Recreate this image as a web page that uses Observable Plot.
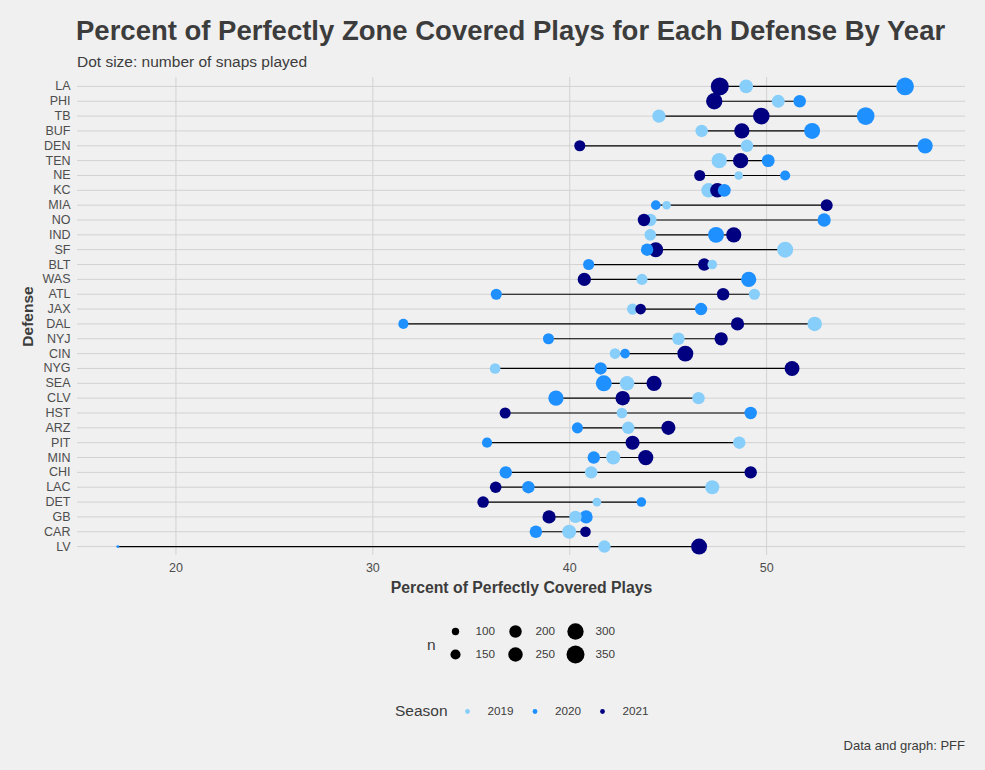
<!DOCTYPE html>
<html>
<head>
<meta charset="utf-8">
<script src="https://cdn.jsdelivr.net/npm/d3@7"></script>
<script src="https://cdn.jsdelivr.net/npm/@observablehq/plot@0.6"></script>
<style>
  html, body { margin: 0; padding: 0; background: #F0F0F0; }
  body { width: 985px; height: 770px; position: relative; overflow: hidden;
         font-family: "Liberation Sans", Arial, sans-serif; color: #3C3C3C; }
  .abs { position: absolute; line-height: 1; white-space: nowrap; }
  #title { left: 76px; top: 17px; font-size: 27.5px; font-weight: bold; }
  #subtitle { left: 77px; top: 54px; font-size: 15.5px; }
  #chart { left: 0; top: 72px; }
  #sizeLegend { left: 0; top: 605px; }
  #seasonLegend { left: 0; top: 690px; }
  #nTitle { left: 427px; top: 637px; font-size: 15.5px; }
  #seasonTitle { left: 395px; top: 703px; font-size: 15.5px; }
  #caption { right: 20px; top: 739px; font-size: 13px; }
</style>
</head>
<body>
<div id="title" class="abs">Percent of Perfectly Zone Covered Plays for Each Defense By Year</div>
<div id="subtitle" class="abs">Dot size: number of snaps played</div>
<div id="chart" class="abs"></div>
<div id="nTitle" class="abs">n</div>
<div id="sizeLegend" class="abs"></div>
<div id="seasonTitle" class="abs">Season</div>
<div id="seasonLegend" class="abs"></div>
<div id="caption" class="abs">Data and graph: PFF</div>
<script>
const teams = ["LA","PHI","TB","BUF","DEN","TEN","NE","KC","MIA","NO","IND","SF","BLT","WAS","ATL","JAX","DAL","NYJ","CIN","NYG","SEA","CLV","HST","ARZ","PIT","MIN","CHI","LAC","DET","GB","CAR","LV"];
const seasons = [2019, 2020, 2021];
const seasonColors = ["#87CEFA", "#1E90FF", "#000080"];

const pct2019 = [48.96,50.59,44.53,46.70,49.00,47.59,48.58,47.05,44.92,44.09,44.09,50.94,47.24,43.67,49.38,43.19,52.44,45.52,42.30,36.21,42.91,46.54,42.65,42.97,48.61,42.21,41.09,47.24,41.38,40.29,39.97,41.76];
const pct2020 = [57.03,51.68,55.03,52.31,58.05,50.08,50.94,47.85,44.37,52.92,47.43,43.93,40.96,49.09,36.27,46.67,31.55,38.92,42.81,41.57,41.73,39.30,49.19,40.39,35.80,41.22,36.75,37.90,43.64,40.83,38.28,17.05];
const pct2021 = [47.62,47.34,49.73,48.74,40.51,48.68,46.60,47.50,53.05,43.77,48.33,44.37,46.83,40.74,47.79,43.60,48.52,47.69,45.87,51.29,44.28,42.69,36.72,45.01,43.19,43.86,49.19,36.24,35.60,38.95,40.80,46.57];

const snaps2019 = [230,210,220,200,200,270,120,250,120,200,180,290,140,170,170,170,250,200,160,160,250,200,160,200,200,240,200,240,125,200,240,200];
const snaps2020 = [340,200,340,290,270,210,150,210,140,220,290,200,170,270,170,200,150,170,140,200,290,270,200,170,150,200,200,200,140,220,200,40];
const snaps2021 = [350,300,310,270,170,270,170,250,190,200,270,260,200,220,200,160,220,220,290,260,270,250,170,240,240,270,200,180,180,220,160,290];

const xTicks = [20, 30, 40, 50];
const sizeBreaks = [100, 150, 200, 250, 300, 350];

const pctLists = [pct2019, pct2020, pct2021];
const snapLists = [snaps2019, snaps2020, snaps2021];

const points = seasons.flatMap((s, k) => teams.map((t, i) => ({team: t, season: s, pct: pctLists[k][i], n: snapLists[k][i]})));
const ranges = teams.map((t, i) => ({
  team: t,
  lo: Math.min(pct2019[i], pct2020[i], pct2021[i]),
  hi: Math.max(pct2019[i], pct2020[i], pct2021[i])
}));

const rScale = {type: "pow", exponent: 0.5, domain: [100, 350], range: [3.7, 9]};
const colorScale = {type: "ordinal", domain: seasons, range: seasonColors};
const font = "'Liberation Sans', Arial, sans-serif";
const grid = "#D2D2D2";

const chart = Plot.plot({
  width: 985,
  height: 530,
  marginLeft: 77,
  marginRight: 20,
  marginTop: 5,
  marginBottom: 47,
  style: {background: "transparent", fontFamily: font, fontSize: "12.5px", color: "#4D4D4D", overflow: "visible"},
  x: {domain: [15.0, 60.1], ticks: xTicks, tickSize: 0, tickPadding: 8, label: null, tickFormat: d => String(d)},
  y: {type: "point", domain: teams, padding: 0.6, round: false, tickSize: 0, tickPadding: 7, label: null},
  r: rScale,
  color: colorScale,
  marks: [
    Plot.ruleX(xTicks, {x: d => d, stroke: grid, strokeWidth: 1}),
    Plot.ruleY(teams, {y: d => d, stroke: grid, strokeWidth: 1}),
    Plot.ruleY(ranges, {y: "team", x1: "lo", x2: "hi", stroke: "black", strokeWidth: 1.2}),
    Plot.dot(points, {x: "pct", y: "team", r: "n", fill: "season", stroke: null}),
    Plot.text(["Percent of Perfectly Covered Plays"], {frameAnchor: "bottom", lineAnchor: "middle", textAnchor: "middle", dy: 32, text: d => d, fontWeight: "bold", fontSize: 15.8, fill: "#3C3C3C"}),
    Plot.text(["Defense"], {frameAnchor: "left", lineAnchor: "middle", textAnchor: "middle", rotate: -90, dx: -49, text: d => d, fontWeight: "bold", fontSize: 15.5, fill: "#3C3C3C"})
  ]
});
document.getElementById("chart").appendChild(chart);

const sizeLegend = Plot.plot({
  width: 985,
  height: 70,
  margin: 0,
  style: {background: "transparent", fontFamily: font, fontSize: "11.7px", color: "#3C3C3C", overflow: "visible"},
  x: {type: "point", domain: [0, 1, 2], range: [455, 575], padding: 0, round: false, axis: null},
  y: {type: "point", domain: [0, 1], range: [26, 49], padding: 0, round: false, axis: null},
  r: rScale,
  marks: [
    Plot.dot(sizeBreaks, {x: (d, i) => Math.floor(i / 2), y: (d, i) => i % 2, r: d => d, fill: "black", stroke: null}),
    Plot.text(sizeBreaks, {x: (d, i) => Math.floor(i / 2), y: (d, i) => i % 2, text: d => String(d), dx: 20, textAnchor: "start", fill: "#3C3C3C"})
  ]
});
document.getElementById("sizeLegend").appendChild(sizeLegend);

const seasonLegend = Plot.plot({
  width: 985,
  height: 40,
  margin: 0,
  style: {background: "transparent", fontFamily: font, fontSize: "11.7px", color: "#3C3C3C", overflow: "visible"},
  x: {type: "point", domain: seasons, range: [467, 602], padding: 0, round: false, axis: null},
  y: {type: "point", domain: [0], range: [21, 21], padding: 0, round: false, axis: null},
  color: colorScale,
  marks: [
    Plot.dot(seasons, {x: d => d, y: () => 0, r: 2.4, fill: d => d, stroke: null}),
    Plot.text(seasons, {x: d => d, y: () => 0, text: d => String(d), dx: 20, textAnchor: "start", fill: "#3C3C3C"})
  ]
});
document.getElementById("seasonLegend").appendChild(seasonLegend);
</script>
</body>
</html>
